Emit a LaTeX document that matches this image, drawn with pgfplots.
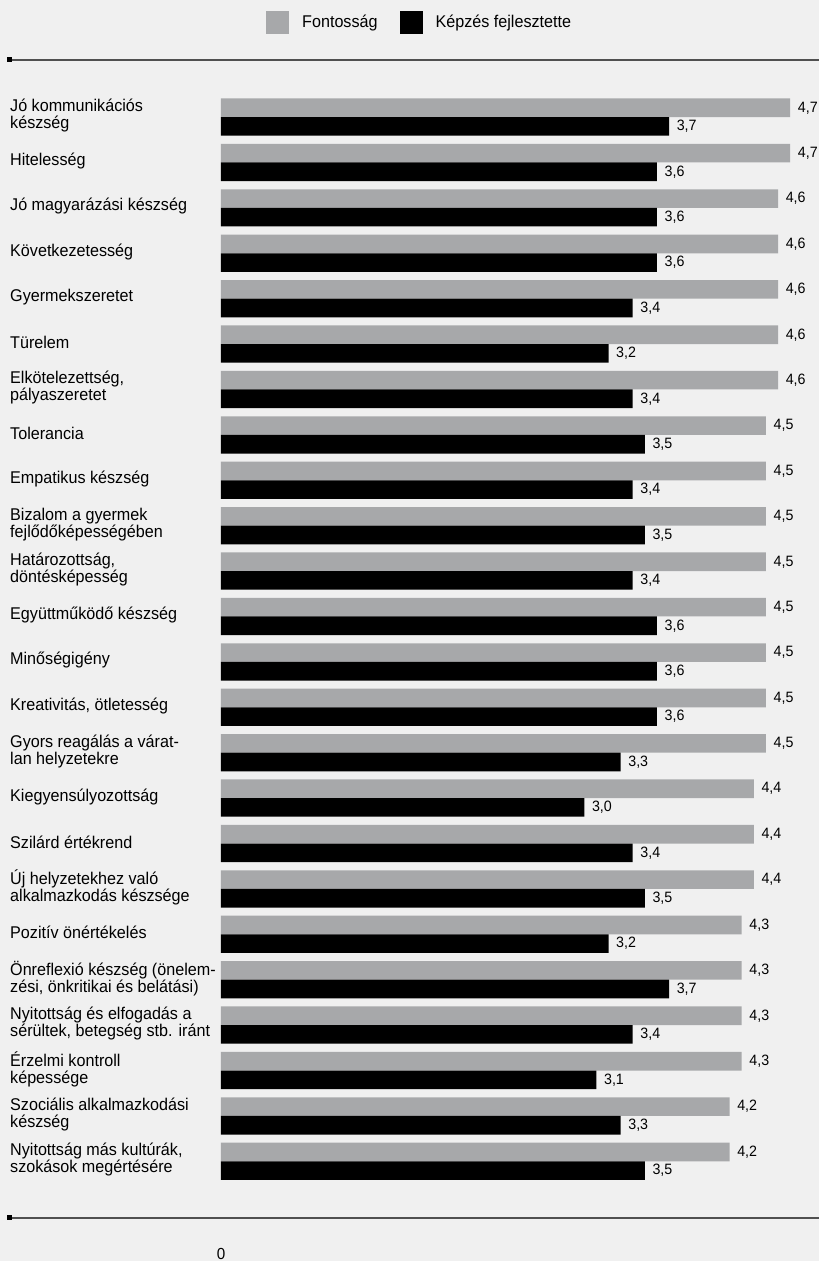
\documentclass[border=0pt]{standalone}
\usepackage{pgfplots}
\pgfplotsset{compat=1.18}
\usepackage{pgfplotstable}
\usepackage{fontspec}
\setmainfont[FakeStretch=0.95]{Liberation Sans}
\definecolor{bg}{HTML}{F0F0F0}
\definecolor{barg}{HTML}{A7A8AA}
\definecolor{linec}{HTML}{505050}
\pgfplotstableread{
y f k
24 4.7 3.7
23 4.7 3.6
22 4.6 3.6
21 4.6 3.6
20 4.6 3.4
19 4.6 3.2
18 4.6 3.4
17 4.5 3.5
16 4.5 3.4
15 4.5 3.5
14 4.5 3.4
13 4.5 3.6
12 4.5 3.6
11 4.5 3.6
10 4.5 3.3
9 4.4 3.0
8 4.4 3.4
7 4.4 3.5
6 4.3 3.2
5 4.3 3.7
4 4.3 3.4
3 4.3 3.1
2 4.2 3.3
1 4.2 3.5
}\datatable
\begin{document}
\begin{tikzpicture}
\fill[bg] (0pt,0pt) rectangle (819pt,1261pt);
\begin{axis}[
  at={(221pt,54.3pt)}, anchor=south west,
  scale only axis, width=605.5pt, height=1135pt,
  xmin=0, xmax=5, ymin=0, ymax=25,
  xbar, bar width=18.6pt,
  axis line style={draw=none}, major tick length=0pt,
  /pgf/number format/assume math mode=true,
  xtick={0,5}, xticklabels={0,5},
  xticklabel style={anchor=north, inner sep=0pt, yshift=-41pt, font=\fontsize{16}{16}\selectfont},
  ytick={24,23,22,21,20,19,18,17,16,15,14,13,12,11,10,9,8,7,6,5,4,3,2,1},
  yticklabels={
    {Jó kommunikációs\\készség},
    {Hitelesség},
    {Jó magyarázási készség},
    {Következetesség},
    {Gyermekszeretet},
    {Türelem},
    {Elkötelezettség,\\pályaszeretet},
    {Tolerancia},
    {Empatikus készség},
    {Bizalom a gyermek\\fejlődőképességében},
    {Határozottság,\\döntésképesség},
    {Együttműködő készség},
    {Minőségigény},
    {Kreativitás, ötletesség},
    {Gyors reagálás a várat-\\lan helyzetekre},
    {Kiegyensúlyozottság},
    {Szilárd értékrend},
    {Új helyzetekhez való\\alkalmazkodás készsége},
    {Pozitív önértékelés},
    {Önreflexió készség (önelem-\\zési, önkritikai és belátási)},
    {Nyitottság és elfogadás a\\sérültek, betegség stb. iránt},
    {Érzelmi kontroll\\képessége},
    {Szociális alkalmazkodási\\készség},
    {Nyitottság más kultúrák,\\szokások megértésére}},
  yticklabel style={anchor=west, align=left, inner sep=0pt, xshift=-211pt, yshift=1.5pt, font=\fontsize{17}{17}\selectfont},
  point meta=x,
  nodes near coords={\pgfmathprintnumber[fixed,fixed zerofill,precision=1,use comma,assume math mode=true]{\pgfplotspointmeta}},
  nodes near coords style={font=\fontsize{15}{15}\selectfont, inner sep=0pt, xshift=7.5pt, anchor=west},
  clip=false,
  legend columns=2,
  legend style={at={(0.0743,1.0434)}, anchor=west, draw=none, fill=none, inner sep=0pt,
    font=\fontsize{17}{17}\selectfont, nodes={inner sep=0pt},
    /tikz/every odd column/.append style={column sep=13pt},
    /tikz/every even column/.append style={column sep=22pt}},
  legend image code/.code={\fill[#1] (0pt,-11.5pt) rectangle (23pt,11.5pt);},
]
\addplot[fill=barg, draw=none, bar shift=9.3pt] table[x=f,y=y]{\datatable};
\addlegendentry{Fontosság}
\addplot[fill=black, draw=none, bar shift=-9.3pt] table[x=k,y=y]{\datatable};
\addlegendentry{Képzés fejlesztette}
\end{axis}
\draw[linec, line width=2pt] (10pt,1201pt) -- (819pt,1201pt);
\fill[black] (7pt,1198.5pt) rectangle (12pt,1203.5pt);
\draw[linec, line width=2pt] (10pt,43.3pt) -- (819pt,43.3pt);
\fill[black] (7pt,40.8pt) rectangle (12pt,45.8pt);
\pgfresetboundingbox
\path[use as bounding box] (0pt,0pt) rectangle (819pt,1261pt);
\end{tikzpicture}
\end{document}
